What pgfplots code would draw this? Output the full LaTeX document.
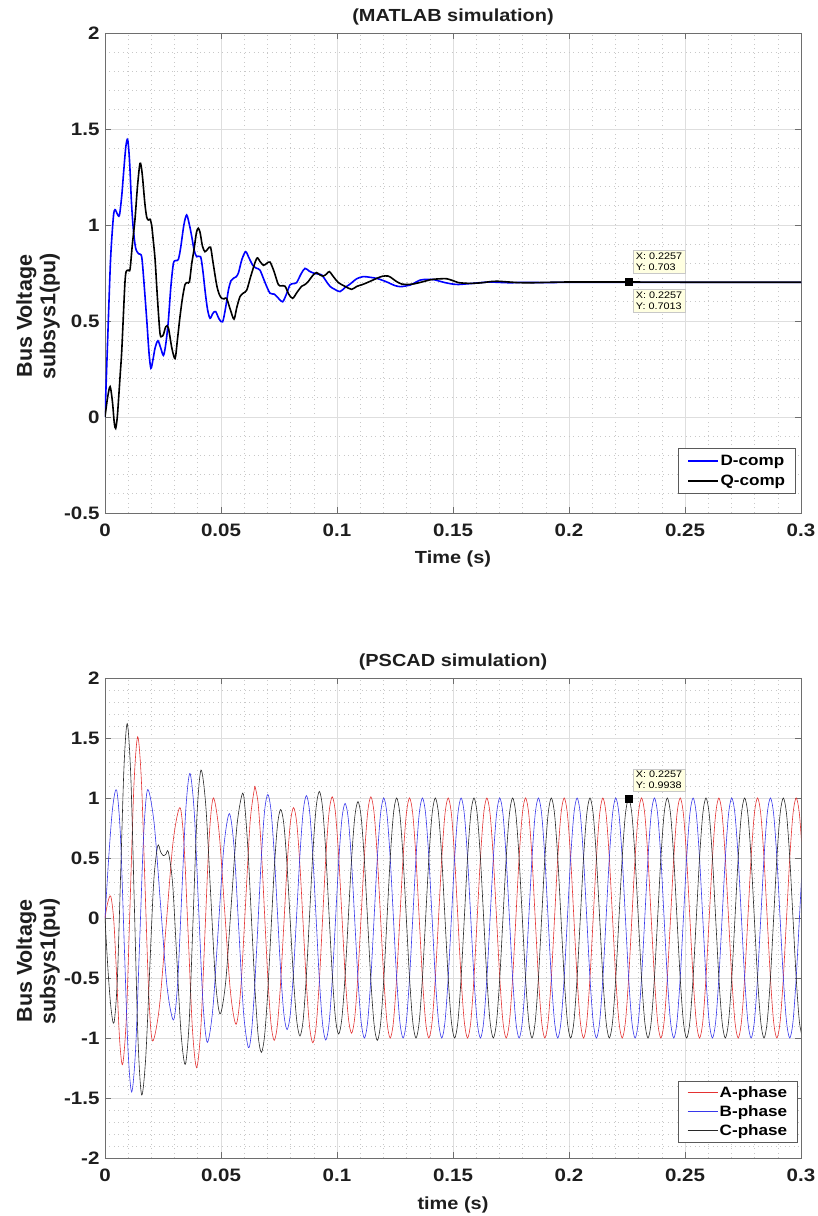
\documentclass[border=0pt]{standalone}
\usepackage{fontspec}
\setmainfont{Liberation Sans}
\newfontfamily\wide[FakeStretch=1.14]{Liberation Sans}
\usepackage{pgfplots}
\pgfplotsset{compat=1.18}
\usepackage{pgfplotstable}

\definecolor{axgray}{RGB}{110,110,110}
\definecolor{majgrid}{RGB}{222,222,222}
\definecolor{mingrid}{RGB}{200,200,200}
\definecolor{tipfill}{RGB}{255,255,225}
\definecolor{tipdraw}{RGB}{200,200,200}
\definecolor{txt}{RGB}{30,30,30}
\definecolor{legdraw}{RGB}{90,90,90}
\definecolor{mblue}{RGB}{0,0,255}
\definecolor{mblack}{RGB}{0,0,0}
\definecolor{pred}{RGB}{228,50,50}
\definecolor{pblue}{RGB}{55,55,235}
\definecolor{pblack}{RGB}{40,40,40}

\pgfplotstableread{
t A B C
0.06460 1.10 -0.55 -0.58
0.06599 0.958 -0.025 -0.975
0.06738 0.57 0.50 -1.12
0.06877 0.04 0.889 -0.984
0.07016 -0.49 1.03 -0.614
0.07154 -0.878 0.899 -0.108
0.07293 -1.02 0.54 0.399
0.07432 -0.89 0.05 0.769
0.07571 -0.535 -0.44 0.905
0.07710 -0.05 -0.799 0.779
0.07849 0.435 -0.93 0.433
0.07988 0.79 -0.799 -0.039
0.08127 0.92 -0.443 -0.511
0.08266 0.789 0.045 -0.857
0.08405 0.43 0.533 -0.983
0.08543 -0.06 0.889 -0.847
0.08682 -0.55 1.02 -0.474
0.08821 -0.909 0.884 0.036
0.08960 -1.04 0.511 0.546
0.09099 -0.903 0.002 0.918
0.09238 -0.528 -0.508 1.055
0.09377 -0.015 -0.880 0.92
0.09516 0.498 -1.017 0.55
0.09654 0.873 -0.885 0.044
0.09793 1.01 -0.524 -0.462
0.09932 0.878 -0.031 -0.832
0.10071 0.518 0.462 -0.967
0.10210 0.025 0.823 -0.837
0.10349 -0.468 0.955 -0.483
0.10488 -0.828 0.824 0.002
0.10627 -0.96 0.466 0.486
0.10766 -0.828 -0.023 0.840
0.10904 -0.468 -0.511 0.97
0.11043 0.025 -0.869 0.837
0.11182 0.518 -1.0 0.473
0.11321 0.878 -0.866 -0.025
0.11460 1.01 -0.5 -0.523
0.11599 0.875 0 -0.887
0.11738 0.508 0.5 -1.02
0.11877 0.005 0.866 -0.885
0.12016 -0.498 1 -0.515
0.12154 -0.865 0.866 -0.01
0.12293 -1.0 0.5 0.495
0.12432 -0.866 0 0.865
0.12571 -0.5 -0.5 1.0
0.12710 0 -0.866 0.866
0.12849 0.5 -1 0.5
0.12988 0.866 -0.866 0
0.13127 1 -0.5 -0.5
0.13266 0.866 0 -0.866
0.13405 0.5 0.5 -1
0.13543 0 0.866 -0.866
0.13682 -0.5 1 -0.5
0.13821 -0.866 0.866 0
0.13960 -1 0.5 0.5
0.14099 -0.866 0 0.866
0.14238 -0.5 -0.5 1
0.14377 0 -0.866 0.866
0.14516 0.5 -1 0.5
0.14654 0.866 -0.866 0
0.14793 1 -0.5 -0.5
0.14932 0.866 0 -0.866
0.15071 0.5 0.5 -1
0.15210 0 0.866 -0.866
0.15349 -0.5 1 -0.5
0.15488 -0.866 0.866 0
0.15627 -1 0.5 0.5
0.15766 -0.866 0 0.866
0.15904 -0.5 -0.5 1
0.16043 0 -0.866 0.866
0.16182 0.5 -1 0.5
0.16321 0.866 -0.866 0
0.16460 1 -0.5 -0.5
0.16599 0.866 0 -0.866
0.16738 0.5 0.5 -1
0.16877 0 0.866 -0.866
0.17016 -0.5 1 -0.5
0.17154 -0.866 0.866 0
0.17293 -1 0.5 0.5
0.17432 -0.866 0 0.866
0.17571 -0.5 -0.5 1
0.17710 0 -0.866 0.866
0.17849 0.5 -1 0.5
0.17988 0.866 -0.866 0
0.18127 1 -0.5 -0.5
0.18266 0.866 0 -0.866
0.18405 0.5 0.5 -1
0.18543 0 0.866 -0.866
0.18682 -0.5 1 -0.5
0.18821 -0.866 0.866 0
0.18960 -1 0.5 0.5
0.19099 -0.866 0 0.866
0.19238 -0.5 -0.5 1
0.19377 0 -0.866 0.866
0.19516 0.5 -1 0.5
0.19654 0.866 -0.866 0
0.19793 1 -0.5 -0.5
0.19932 0.866 0 -0.866
0.20071 0.5 0.5 -1
0.20210 0 0.866 -0.866
0.20349 -0.5 1 -0.5
0.20488 -0.866 0.866 0
0.20627 -1 0.5 0.5
0.20766 -0.866 0 0.866
0.20904 -0.5 -0.5 1
0.21043 0 -0.866 0.866
0.21182 0.5 -1 0.5
0.21321 0.866 -0.866 0
0.21460 1 -0.5 -0.5
0.21599 0.866 0 -0.866
0.21738 0.5 0.5 -1
0.21877 0 0.866 -0.866
0.22016 -0.5 1 -0.5
0.22154 -0.866 0.866 0
0.22293 -1 0.5 0.5
0.22432 -0.866 0 0.866
0.22571 -0.5 -0.5 0.9938
0.22710 0 -0.866 0.866
0.22849 0.5 -1 0.5
0.22988 0.866 -0.866 0
0.23127 1 -0.5 -0.5
0.23266 0.866 0 -0.866
0.23405 0.5 0.5 -1
0.23543 0 0.866 -0.866
0.23682 -0.5 1 -0.5
0.23821 -0.866 0.866 0
0.23960 -1 0.5 0.5
0.24099 -0.866 0 0.866
0.24238 -0.5 -0.5 1
0.24377 0 -0.866 0.866
0.24516 0.5 -1 0.5
0.24654 0.866 -0.866 0
0.24793 1 -0.5 -0.5
0.24932 0.866 0 -0.866
0.25071 0.5 0.5 -1
0.25210 0 0.866 -0.866
0.25349 -0.5 1 -0.5
0.25488 -0.866 0.866 0
0.25627 -1 0.5 0.5
0.25766 -0.866 0 0.866
0.25904 -0.5 -0.5 1
0.26043 0 -0.866 0.866
0.26182 0.5 -1 0.5
0.26321 0.866 -0.866 0
0.26460 1 -0.5 -0.5
0.26599 0.866 0 -0.866
0.26738 0.5 0.5 -1
0.26877 0 0.866 -0.866
0.27016 -0.5 1 -0.5
0.27154 -0.866 0.866 0
0.27293 -1 0.5 0.5
0.27432 -0.866 0 0.866
0.27571 -0.5 -0.5 1
0.27710 0 -0.866 0.866
0.27849 0.5 -1 0.5
0.27988 0.866 -0.866 0
0.28127 1 -0.5 -0.5
0.28266 0.866 0 -0.866
0.28405 0.5 0.5 -1
0.28543 0 0.866 -0.866
0.28682 -0.5 1 -0.5
0.28821 -0.866 0.866 0
0.28960 -1 0.5 0.5
0.29099 -0.866 0 0.866
0.29238 -0.5 -0.5 1
0.29377 0 -0.866 0.866
0.29516 0.5 -1 0.5
0.29654 0.866 -0.866 0
0.29793 1 -0.5 -0.5
0.29932 0.866 0 -0.866
0.30071 0.5 0.5 -1
}\steady

\tikzset{tip/.style={draw=tipdraw, fill=tipfill, line width=0.5pt, font=\wide\fontsize{9.5}{11}\selectfont, align=left, inner xsep=3pt, inner ysep=2.5pt, text=black}}

\pgfplotsset{mstyle/.style={
  width=696pt, height=480pt, scale only axis,
  xmin=0, xmax=0.3,
  xtick={0,0.05,0.1,0.15,0.2,0.25,0.3},
  xticklabels={0,0.05,0.1,0.15,0.2,0.25,0.3},
  minor x tick num=4, minor y tick num=4,
  grid=both,
  major grid style={majgrid, line width=0.6pt},
  minor grid style={mingrid, line width=0.6pt, dash pattern=on 1pt off 3.5pt},
  axis line style={axgray, line width=0.8pt},
  tick style={axgray, line width=0.8pt},
  major tick length=6pt, minor tick length=0pt,
  tick align=inside,
  xticklabel style={font=\wide\bfseries\fontsize{18}{18}\selectfont, text=txt, yshift=-7pt},
  yticklabel style={font=\wide\bfseries\fontsize{18}{18}\selectfont, text=txt, xshift=-2pt},
  title style={at={(axis description cs:0.5,1)}, anchor=base, yshift=5pt, font=\wide\bfseries\fontsize{17.5}{17.5}\selectfont, text=txt},
  xlabel style={at={(axis description cs:0.5,0)}, anchor=base, yshift=-51pt, font=\wide\bfseries\fontsize{17.5}{17.5}\selectfont, text=txt},
  ylabel style={at={(axis description cs:-0.0963,0.41)}, anchor=center, align=center, font=\bfseries\fontsize{21.5}{23.5}\selectfont, text=txt},
  ylabel={Bus Voltage\\subsys1(pu)},
  legend cell align=left,
  legend style={anchor=south east, draw=legdraw, line width=0.6pt, fill=white,
    font=\wide\bfseries\fontsize{15}{15}\selectfont,
    inner xsep=9pt, nodes={inner sep=1.5pt},
    /tikz/every even column/.append style={column sep=4pt}},
}}

\begin{document}
\begin{tikzpicture}
\useasboundingbox (0,0) rectangle (817pt,1216pt);

% ---------------- top axis -----------------
\begin{axis}[mstyle, at={(105pt,703pt)}, anchor=south west,
  ymin=-0.5, ymax=2,
  ytick={-0.5,0,0.5,1,1.5,2}, yticklabels={-0.5,0,0.5,1,1.5,2},
  title={(MATLAB simulation)}, xlabel={Time (s)},
  legend style={at={(axis description cs:0.9928,0.04)}, inner ysep=5pt, row sep=5pt},
  legend image code/.code={\draw[mark repeat=2,mark phase=2,#1] plot coordinates {(0pt,0pt) (15pt,0pt) (30pt,0pt)};},
]
\addlegendimage{color=mblue, line width=1.4pt}
\addlegendentry{D-comp}
\addlegendimage{color=mblack, line width=1.4pt}
\addlegendentry{Q-comp}
\addplot[draw=mblue, line width=1.6pt, smooth, forget plot] coordinates {
(0,0) (0.0012,0.42) (0.0024,0.82) (0.0036,1.04) (0.0043,1.08) (0.0052,1.06)
(0.0062,1.05) (0.0072,1.15) (0.0080,1.27) (0.0090,1.41) (0.0098,1.443)
(0.0106,1.33) (0.0114,1.12) (0.0122,0.98) (0.0132,0.88) (0.0145,0.85)
(0.0158,0.835) (0.0168,0.70) (0.0180,0.505) (0.0190,0.33) (0.0198,0.254)
(0.0207,0.30) (0.0216,0.36) (0.0228,0.397) (0.0240,0.36) (0.0252,0.321)
(0.0262,0.38) (0.0273,0.50) (0.0284,0.68) (0.0295,0.80) (0.0306,0.815)
(0.0316,0.82) (0.0326,0.88) (0.0340,1.00) (0.0352,1.052) (0.0364,1.00)
(0.0374,0.939) (0.0384,0.87) (0.0395,0.835) (0.0412,0.835) (0.0422,0.76)
(0.0431,0.661) (0.0442,0.56) (0.0453,0.514) (0.0465,0.54) (0.0477,0.549)
(0.0492,0.51) (0.0507,0.496) (0.0520,0.57) (0.0532,0.661) (0.0543,0.71)
(0.0553,0.722) (0.0565,0.73) (0.0575,0.75) (0.0590,0.82) (0.0606,0.861)
(0.0620,0.83) (0.0637,0.79) (0.0652,0.775) (0.0668,0.765) (0.0690,0.70)
(0.0711,0.645) (0.0730,0.64) (0.0750,0.615) (0.0766,0.60) (0.0782,0.64)
(0.0797,0.687) (0.0812,0.695) (0.0826,0.70) (0.0845,0.745) (0.0862,0.774)
(0.0880,0.76) (0.0898,0.75) (0.0916,0.745) (0.0934,0.74) (0.0952,0.71)
(0.0970,0.68) (0.0990,0.665) (0.1013,0.653) (0.1035,0.675) (0.1056,0.692)
(0.1085,0.72) (0.1113,0.731) (0.1140,0.728) (0.1171,0.722) (0.1196,0.712)
(0.1221,0.70) (0.1248,0.685) (0.1272,0.679) (0.1295,0.682) (0.1315,0.687)
(0.1337,0.70) (0.1358,0.713) (0.1387,0.717) (0.1415,0.716) (0.1440,0.708)
(0.1465,0.70) (0.1495,0.693) (0.1523,0.69) (0.1555,0.693) (0.1587,0.696)
(0.1620,0.70) (0.1659,0.703) (0.1700,0.701) (0.1750,0.699) (0.1800,0.701)
(0.1900,0.700) (0.2000,0.7013) (0.2257,0.7013) (0.2500,0.701) (0.3000,0.701)
};
\addplot[draw=mblack, line width=1.6pt, smooth, forget plot] coordinates {
(0,0) (0.0011,0.10) (0.0022,0.158) (0.0032,0.08) (0.0040,-0.03) (0.0046,-0.059)
(0.0053,0.00) (0.0060,0.12) (0.0066,0.23) (0.0072,0.34) (0.0080,0.55)
(0.0086,0.70) (0.0091,0.757) (0.0100,0.765) (0.0108,0.77) (0.0118,0.90)
(0.0129,1.026) (0.0140,1.20) (0.0151,1.321) (0.0160,1.27) (0.0172,1.11)
(0.0180,1.04) (0.0187,1.026) (0.0194,1.03) (0.0201,1.00) (0.0208,0.92)
(0.0216,0.818) (0.0226,0.62) (0.0237,0.436) (0.0245,0.42) (0.0252,0.43)
(0.0262,0.47) (0.0273,0.465) (0.0288,0.36) (0.0302,0.305) (0.0312,0.40)
(0.0323,0.52) (0.0334,0.62) (0.0345,0.69) (0.0355,0.70) (0.0364,0.705)
(0.0374,0.80) (0.0384,0.875) (0.0394,0.96) (0.0402,0.983) (0.0410,0.96)
(0.0420,0.89) (0.0431,0.861) (0.0443,0.875) (0.0455,0.884) (0.0465,0.81)
(0.0481,0.69) (0.0492,0.64) (0.0503,0.618) (0.0513,0.615) (0.0524,0.618)
(0.0540,0.56) (0.0556,0.51) (0.0568,0.57) (0.0582,0.627) (0.0596,0.645)
(0.0611,0.661) (0.0630,0.74) (0.0654,0.826) (0.0668,0.81) (0.0683,0.79)
(0.0697,0.80) (0.0711,0.807) (0.0728,0.76) (0.0747,0.69) (0.0760,0.683)
(0.0776,0.681) (0.0792,0.64) (0.0809,0.618) (0.0828,0.65) (0.0848,0.681)
(0.0862,0.69) (0.0876,0.705) (0.0894,0.735) (0.0912,0.752) (0.0926,0.74)
(0.0941,0.734) (0.0955,0.745) (0.0967,0.757) (0.0985,0.73) (0.1006,0.70)
(0.1035,0.68) (0.1063,0.665) (0.1085,0.68) (0.1110,0.69) (0.1140,0.705)
(0.1171,0.722) (0.1196,0.733) (0.1221,0.734) (0.1240,0.72) (0.1257,0.705)
(0.1280,0.692) (0.1300,0.69) (0.1330,0.693) (0.1372,0.705) (0.1400,0.714)
(0.1422,0.718) (0.1450,0.72) (0.1473,0.72) (0.1500,0.71) (0.1523,0.70)
(0.1550,0.697) (0.1573,0.696) (0.1600,0.697) (0.1631,0.70) (0.1660,0.705)
(0.1690,0.707) (0.1730,0.704) (0.1780,0.70) (0.1832,0.699) (0.1900,0.701)
(0.2000,0.703) (0.2257,0.703) (0.2500,0.702) (0.3000,0.702)
};
\addplot[only marks, mark=square*, mark size=3.5pt, black, forget plot] coordinates {(0.2257,0.703)};
\node[tip, anchor=south west, xshift=4pt, yshift=9pt] at (axis cs:0.2257,0.703) {X: 0.2257\\Y: 0.703};
\node[tip, anchor=north west, xshift=4pt, yshift=-7pt] at (axis cs:0.2257,0.703) {X: 0.2257\\Y: 0.7013};
\end{axis}

% ---------------- bottom axis -----------------
\begin{axis}[mstyle, at={(105pt,58pt)}, anchor=south west,
  ymin=-2, ymax=2,
  ytick={-2,-1.5,-1,-0.5,0,0.5,1,1.5,2}, yticklabels={-2,-1.5,-1,-0.5,0,0.5,1,1.5,2},
  title={(PSCAD simulation)}, xlabel={time (s)},
  legend style={at={(axis description cs:0.9957,0.033)}, inner ysep=3.5pt, row sep=3.5pt},
  legend image code/.code={\draw[mark repeat=2,mark phase=2,#1] plot coordinates {(0pt,0pt) (15pt,0pt) (30pt,0pt)};},
]
\addlegendimage{color=pred, line width=1.1pt}
\addlegendentry{A-phase}
\addlegendimage{color=pblue, line width=1.1pt}
\addlegendentry{B-phase}
\addlegendimage{color=pblack, line width=1.1pt}
\addlegendentry{C-phase}
\addplot[color=pred, line width=0.6pt, smooth, forget plot] coordinates {
(0,0) (0.0012,0.13) (0.0025,0.18) (0.0038,-0.025) (0.0051,-0.52) (0.0063,-1.015)
(0.0076,-1.22) (0.00923,-0.82) (0.01085,0.145) (0.01248,1.11) (0.0141,1.51)
(0.0157,1.14) (0.0173,0.24) (0.0189,-0.65) (0.0205,-1.025) (0.02345,-0.74)
(0.0264,-0.05) (0.02935,0.635) (0.0323,0.92) (0.0341,0.60) (0.0359,-0.16)
(0.0377,-0.93) (0.0395,-1.247) (0.0413,-0.92) (0.0431,-0.12) (0.0449,0.67)
(0.0467,1.0) (0.04915,0.72) (0.0516,0.057) (0.05405,-0.61) (0.0565,-0.886)
(0.0585,-0.595) (0.06055,0.107) (0.0626,0.81) (0.0646,1.10)
};
\addplot[color=pblue, line width=0.6pt, smooth, forget plot] coordinates {
(0,0) (0.0017,0.53) (0.0033,0.92) (0.0050,1.067) (0.00663,0.698) (0.00825,-0.19)
(0.00988,-1.08) (0.0115,-1.45) (0.01323,-1.08) (0.01495,-0.19) (0.01668,0.70)
(0.0184,1.07) (0.02118,0.789) (0.02395,0.11) (0.02673,-0.569) (0.0295,-0.85)
(0.03128,-0.549) (0.03305,0.18) (0.03483,0.904) (0.0366,1.205) (0.03848,0.877)
(0.04035,0.085) (0.04223,-0.708) (0.0441,-1.036) (0.04648,-0.757) (0.04885,-0.083)
(0.05123,0.591) (0.0536,0.87) (0.05565,0.584) (0.0577,-0.105) (0.05975,-0.794)
(0.0618,-1.08) (0.06321,-0.939) (0.0646,-0.55)
};
\addplot[color=pblack, line width=0.6pt, smooth, forget plot] coordinates {
(0,0) (0.0013,-0.436) (0.0026,-0.755) (0.0039,-0.872) (0.00533,-0.507)
(0.00675,0.374) (0.00818,1.255) (0.0096,1.62) (0.01115,1.167) (0.0127,0.0725)
(0.01425,-1.022) (0.0158,-1.475) (0.01753,-1.171) (0.01925,-0.4375) (0.02098,0.296)
(0.0227,0.60) (0.0240,0.55) (0.0251,0.52) (0.0262,0.53) (0.0273,0.55)
(0.02913,0.291) (0.03095,-0.335) (0.03278,-0.961) (0.0346,-1.22) (0.0363,-0.861)
(0.0380,0.0065) (0.0397,0.874) (0.0414,1.233) (0.04345,0.935) (0.0455,0.217)
(0.04755,-0.502) (0.0496,-0.80) (0.05203,-0.53) (0.05445,0.12) (0.05688,0.77)
(0.0593,1.04) (0.0605,0.88) (0.06182,0.50) (0.06321,-0.04) (0.0646,-0.58)
};
\addplot[color=pred, line width=0.6pt, smooth, forget plot] table[x=t, y=A] {\steady};
\addplot[color=pblue, line width=0.6pt, smooth, forget plot] table[x=t, y=B] {\steady};
\addplot[color=pblack, line width=0.6pt, smooth, forget plot] table[x=t, y=C] {\steady};
\addplot[only marks, mark=square*, mark size=3.5pt, black, forget plot] coordinates {(0.2257,0.9938)};
\node[tip, anchor=south west, xshift=4pt, yshift=7pt] at (axis cs:0.2257,0.9938) {X: 0.2257\\Y: 0.9938};
\end{axis}
\end{tikzpicture}
\end{document}
